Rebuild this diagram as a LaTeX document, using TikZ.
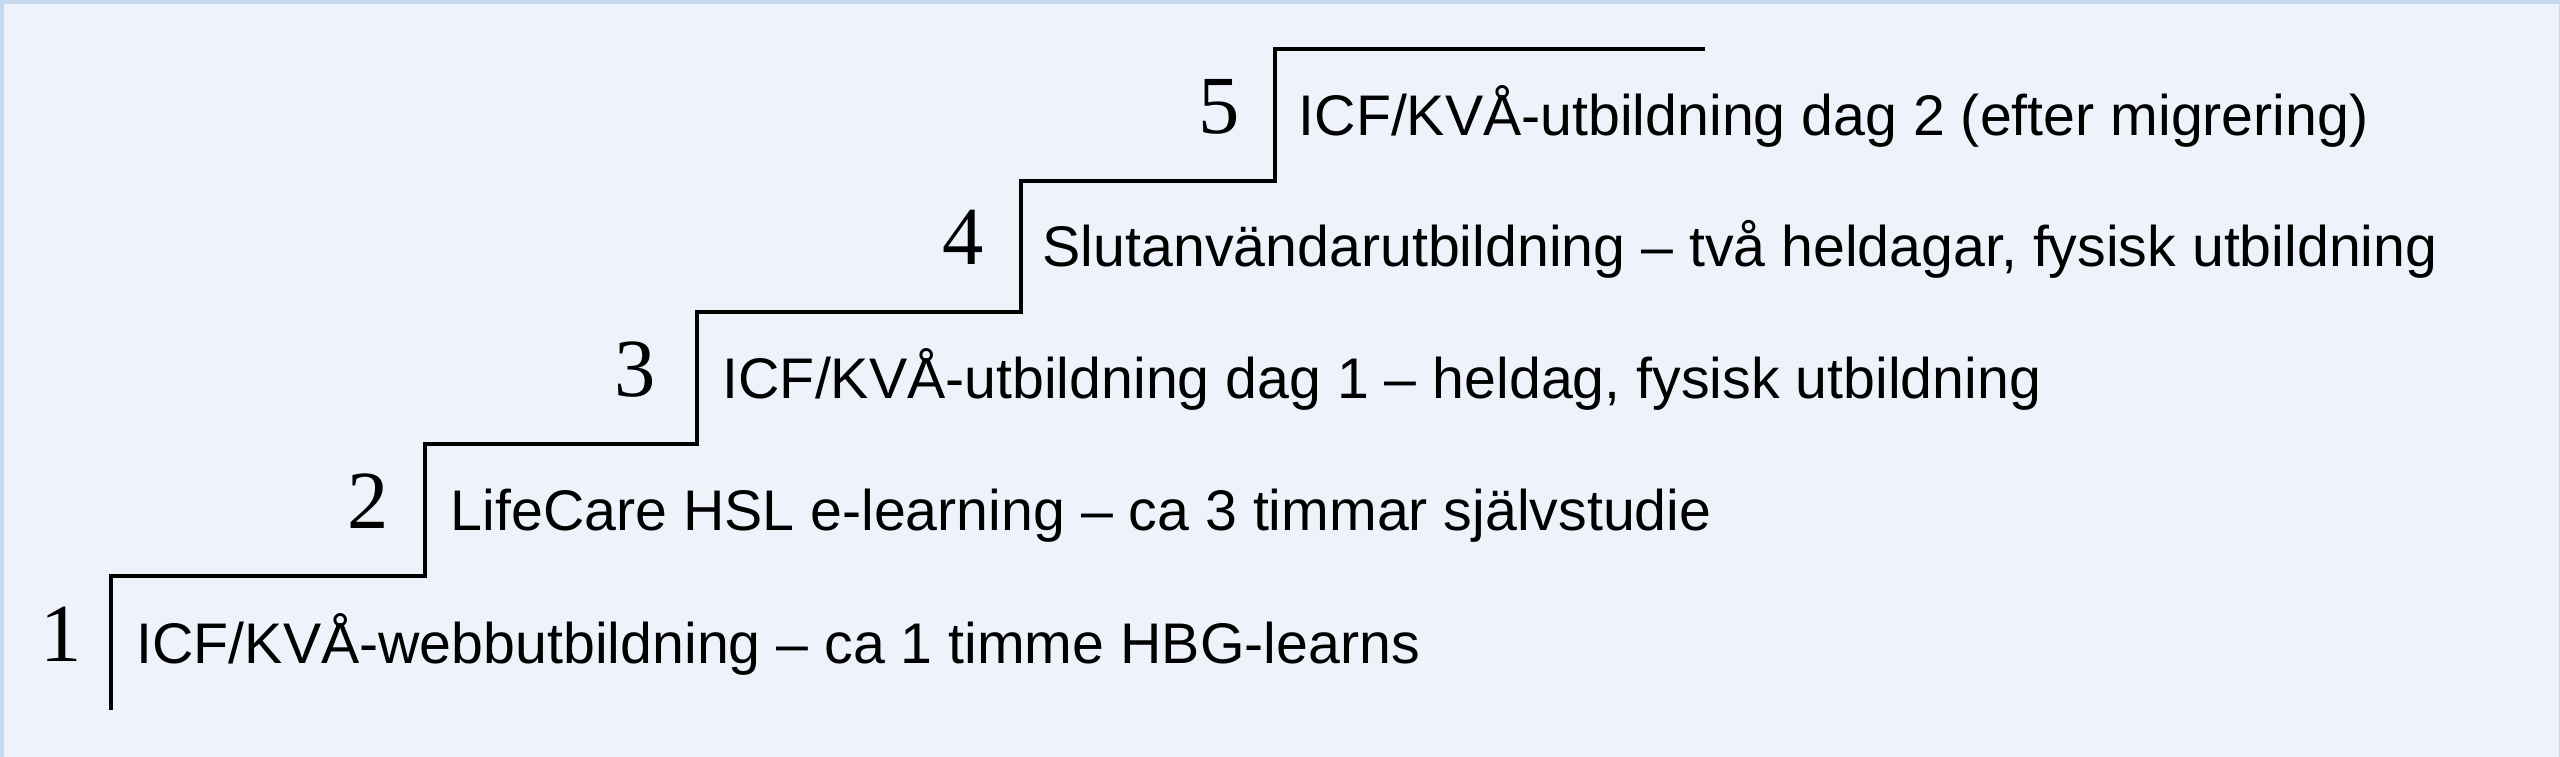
\documentclass[tikz,border=0pt]{standalone}
\usepackage{fontspec}
\setmainfont{Liberation Sans}
\newfontfamily\numfont{Liberation Serif}
\usetikzlibrary{positioning}
\usetikzlibrary{calc}
\definecolor{cadre}{HTML}{C5D9EF}
\definecolor{fond}{HTML}{EEF3FB}
\tikzstyle{etape}=[
        anchor=base west,
        inner sep=0pt,
        font=\fontsize{16.3pt}{18pt}\selectfont
]
\tikzstyle{numero}=[
        anchor=base east,
        inner sep=0pt,
        font=\numfont\fontsize{23.5pt}{26pt}\selectfont
]
\tikzstyle{marche}=[draw=black,line width=0.9pt,line join=miter]

\begin{document}
\begin{tikzpicture}
\useasboundingbox (0,0) rectangle (25.6,7.57);
\fill[cadre] (0,0) rectangle (25.6,7.57);
\fill[fond] (0.04,0) rectangle (25.59,7.53);
%Coins de l'escalier
\coordinate (bas) at (1.11,0.47);
\coordinate (c1) at (1.11,1.81);
\coordinate (c2) at (4.25,3.13);
\coordinate (c3) at (6.97,4.45);
\coordinate (c4) at (10.21,5.76);
\coordinate (c5) at (12.75,7.08);
\coordinate (fin) at (17.05,7.08);
%Textes
\node[numero] (n1) at ($(c1)+(-0.29,-0.86)$) {1};
\node[etape] (t1) at ($(c1)+(0.25,-0.88)$) {ICF/KVÅ-webbutbildning – ca 1 timme HBG-learns};
\node[numero] (n2) at ($(c2)+(-0.36,-0.85)$) {2};
\node[etape] (t2) at ($(c2)+(0.25,-0.87)$) {LifeCare HSL e-learning – ca 3 timmar självstudie};
\node[numero] (n3) at ($(c3)+(-0.41,-0.85)$) {3};
\node[etape] (t3) at ($(c3)+(0.25,-0.87)$) {ICF/KVÅ-utbildning dag 1 – heldag, fysisk utbildning};
\node[numero] (n4) at ($(c4)+(-0.37,-0.84)$) {4};
\node[etape] (t4) at ($(c4)+(0.21,-0.86)$) {Slutanvändarutbildning – två heldagar, fysisk utbildning};
\node[numero] (n5) at ($(c5)+(-0.35,-0.85)$) {5};
\node[etape] (t5) at ($(c5)+(0.23,-0.87)$) {ICF/KVÅ-utbildning dag 2 (efter migrering)};
%Escalier
\draw[marche] (bas) -- (c1) -| (c2) -| (c3) -| (c4) -| (c5) -- (fin);
\end{tikzpicture}
\end{document}
